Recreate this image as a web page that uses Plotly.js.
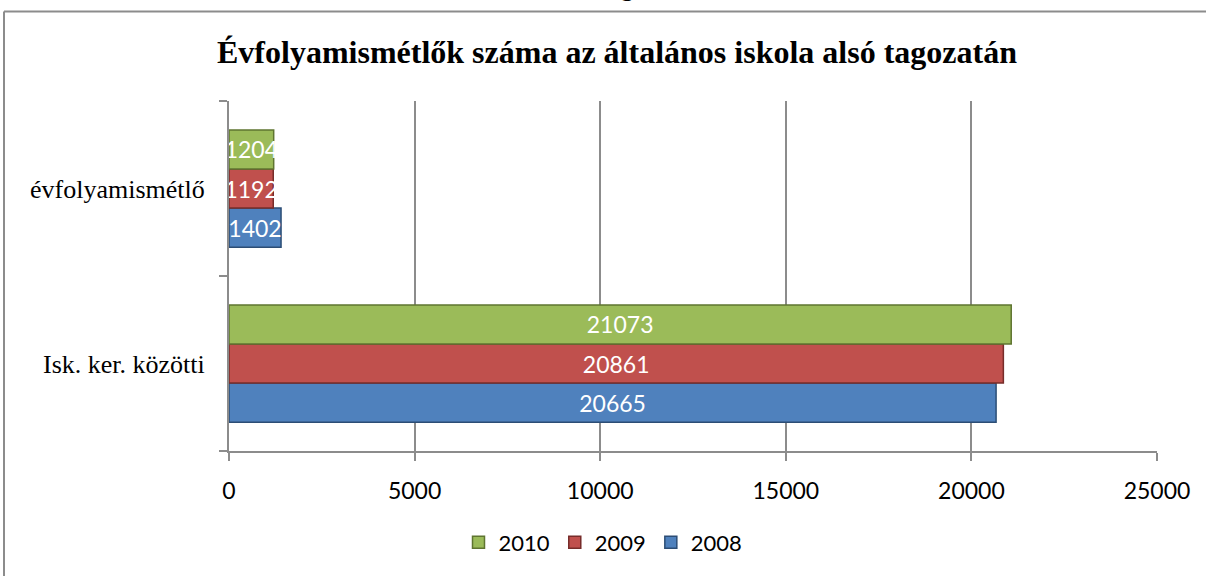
<!DOCTYPE html>
<html>
<head>
<meta charset="utf-8">
<script src="https://cdn.plot.ly/plotly-3.0.1.min.js"></script>
<style>html,body{margin:0;padding:0;background:#fff;}#chart{width:1206px;height:576px;}</style>
</head>
<body>
<div id="chart"></div>
<script>
const categories = ["Isk. ker. közötti", "évfolyamismétlő"];
const years = ["2008", "2009", "2010"];
const values2008 = [20665, 1402];
const values2009 = [20861, 1192];
const values2010 = [21073, 1204];
const xTicks = [0, 5000, 10000, 15000, 20000, 25000];
const titleText = "Évfolyamismétlők száma az általános iskola alsó tagozatán";

const series = [values2008, values2009, values2010];
const fills = ["#4F81BD", "#C0504D", "#9BBB59"];
const edges = ["#2C4D75", "#772C2A", "#5F7530"];

const traces = series.map((vals, i) => ({
  type: "bar",
  orientation: "h",
  name: years[i],
  y: categories,
  x: vals,
  text: vals.map(String),
  textposition: "inside",
  insidetextanchor: "middle",
  constraintext: "none",
  textfont: {family: "Lato, 'Open Sans', sans-serif", size: 23, color: "#ffffff"},
  marker: {color: fills[i], line: {color: edges[i], width: 1.5}},
  hoverinfo: "x+name"
}));

const L = 229, R = 49, T = 101, B = 123;
const pw = 1206 - L - R, ph = 576 - T - B;
const px = p => (p - L) / pw;
const py = p => (576 - B - p) / ph;

const layout = {
  width: 1206, height: 576,
  margin: {l: L, r: R, t: T, b: B, pad: 0},
  paper_bgcolor: "#ffffff", plot_bgcolor: "#ffffff",
  barmode: "group", bargap: 0.33, bargroupgap: 0,
  showlegend: true,
  title: {text: "<b>" + titleText + "</b>", x: 617/1206, xanchor: "center", y: 1 - 52/576, yanchor: "middle",
    font: {family: "'Liberation Serif', 'Times New Roman', serif", size: 32, color: "#000"}},
  xaxis: {
    range: [0, 25000], tickvals: xTicks, ticktext: xTicks.map(String),
    showgrid: true, gridcolor: "#8c8c8c", gridwidth: 2,
    zeroline: false, showline: true, linecolor: "#8c8c8c", linewidth: 2, mirror: false,
    ticks: "outside", ticklen: 8, tickcolor: "#8c8c8c", tickwidth: 2,
    ticklabelstandoff: 10,
    tickfont: {family: "Lato, 'Open Sans', sans-serif", size: 23, color: "#000"},
    fixedrange: true
  },
  yaxis: {
    type: "category", categoryorder: "array", categoryarray: categories,
    showgrid: false, zeroline: false, showline: true, linecolor: "#8c8c8c", linewidth: 2,
    ticks: "outside", ticklen: 8, tickcolor: "#8c8c8c", tickwidth: 2, tickson: "boundaries",
    ticklabelstandoff: 17,
    tickfont: {family: "'Liberation Serif', 'Times New Roman', serif", size: 26, color: "#000"},
    fixedrange: true
  },
  legend: {orientation: "h", traceorder: "reversed", x: px(603), xanchor: "center", y: py(545), yanchor: "middle",
    font: {family: "Lato, 'Open Sans', sans-serif", size: 22, color: "#000"}, itemwidth: 30},
  shapes: [
    {type: "line", xref: "paper", yref: "paper", x0: px(4), x1: px(1300), y0: py(11), y1: py(11),
      line: {color: "#8c8c8c", width: 2}},
    {type: "line", xref: "paper", yref: "paper", x0: px(4), x1: px(4), y0: py(11), y1: py(700),
      line: {color: "#8c8c8c", width: 2}}
  ],
  annotations: [
    {xref: "paper", yref: "paper", x: px(627), y: py(2), xanchor: "center", yanchor: "bottom",
      text: "<b>g</b>", showarrow: false,
      font: {family: "'Liberation Serif', 'Times New Roman', serif", size: 25, color: "#000"}}
  ]
};

Plotly.newPlot("chart", traces, layout, {displayModeBar: false, staticPlot: true});
</script>
</body>
</html>
